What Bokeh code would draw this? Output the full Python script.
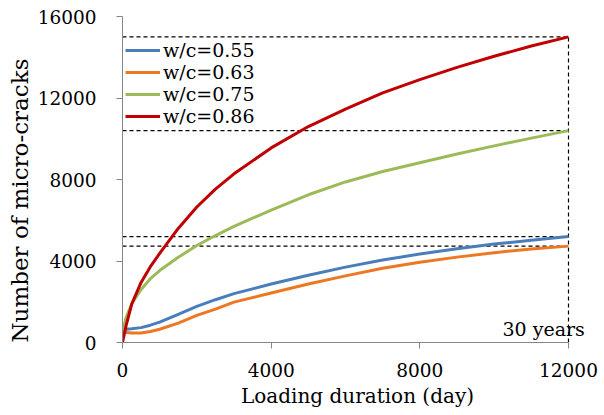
from bokeh.plotting import figure
from bokeh.models import Range1d, FixedTicker, Legend, LegendItem, Label, Title
from bokeh.embed import file_html
from bokeh.resources import INLINE

# ---- data ----
days  = [0, 100, 250, 500, 750, 1000, 1500, 2000, 2500, 3000, 4000, 5000, 6000, 7000, 8000, 9000, 10000, 11000, 12000]
wc055 = [650, 655, 670, 730, 850, 1000, 1380, 1770, 2100, 2400, 2870, 3300, 3700, 4050, 4340, 4600, 4830, 5020, 5200]
wc063 = [500, 490, 470, 470, 540, 650, 950, 1330, 1640, 1980, 2430, 2870, 3270, 3640, 3940, 4190, 4410, 4590, 4730]
wc075 = [550, 1250, 1900, 2600, 3130, 3530, 4180, 4760, 5250, 5700, 6500, 7250, 7880, 8390, 8820, 9250, 9650, 10030, 10400]
wc086 = [0, 850, 1900, 2950, 3720, 4370, 5600, 6650, 7530, 8280, 9550, 10600, 11450, 12250, 12900, 13500, 14050, 14550, 15000]
series_labels = ["w/c=0.55", "w/c=0.63", "w/c=0.75", "w/c=0.86"]
series_colors = ["#4A7EBB", "#EE7722", "#9BBB59", "#C00000"]
x_ticks = [0, 4000, 8000, 12000]
y_ticks = [0, 4000, 8000, 12000, 16000]
x_title = "Loading duration (day)"
y_title = "Number of micro-cracks"
note_text = "30 years"

FONT = "DejaVu Serif"

# frame spans 470 px, the 0..12000 axis uses the first 446 px of it
x_end = x_ticks[-1] * 470.0 / 446.0

p = figure(width=600, height=414, output_backend="svg", toolbar_location=None,
           x_range=Range1d(0, x_end), y_range=Range1d(0, y_ticks[-1]),
           min_border_left=122, min_border_right=8, min_border_top=16, min_border_bottom=72)
p.outline_line_color = None
p.xgrid.visible = False
p.ygrid.visible = False
p.background_fill_color = "white"

# reference dashed lines at the final values
all_series = [wc055, wc063, wc075, wc086]
for s in all_series:
    p.line([days[0], days[-1]], [s[-1], s[-1]], line_color="black", line_width=1.2, line_dash="4 3")
p.line([days[-1], days[-1]], [0, max(s[-1] for s in all_series)], line_color="black",
       line_width=1.2, line_dash="4 3")

items = []
for s, lab, col in zip(all_series, series_labels, series_colors):
    r = p.line(days, s, line_color=col, line_width=3, line_join="round")
    items.append(LegendItem(label=lab, renderers=[r]))

legend = Legend(items=items, location=(3, 215))
legend.background_fill_alpha = 0
legend.border_line_alpha = 0
legend.padding = 0
legend.margin = 0
legend.spacing = 0
legend.glyph_width = 35
legend.glyph_height = 22
legend.label_height = 22
legend.label_standoff = 3
legend.label_text_font = FONT
legend.label_text_font_size = "19px"
legend.label_text_color = "black"
p.add_layout(legend, "center")

for ax in (p.xaxis[0], p.yaxis[0]):
    ax.axis_line_color = "#868686"
    ax.major_tick_line_color = "#868686"
    ax.minor_tick_line_color = None
    ax.major_tick_out = 6
    ax.major_tick_in = 0
    ax.major_label_text_font = FONT
    ax.major_label_text_font_size = "18.5px"
    ax.major_label_text_color = "black"
    ax.axis_label_text_font = FONT
    ax.axis_label_text_font_style = "normal"
    ax.axis_label_text_color = "black"

p.xaxis.bounds = (x_ticks[0], x_ticks[-1])
p.xaxis.ticker = FixedTicker(ticks=x_ticks)
p.yaxis.ticker = FixedTicker(ticks=y_ticks)
p.xaxis.major_label_overrides = {t: str(t) for t in x_ticks}
p.yaxis.major_label_overrides = {t: str(t) for t in y_ticks}
p.xaxis.axis_label = x_title
p.xaxis.axis_label_text_font_size = "20px"
p.xaxis.major_label_standoff = 14
p.xaxis.axis_label_standoff = 4
p.yaxis.major_label_standoff = 20

ytitle = Title(text=y_title, align="left", offset=0, text_font=FONT,
               text_font_size="23px", text_font_style="normal", text_color="black",
               standoff=4)
p.add_layout(ytitle, "left")

note = Label(x=days[-1], y=0, x_offset=-66, y_offset=14, text=note_text,
             text_font=FONT, text_font_size="19px", text_color="black",
             text_align="left", text_baseline="alphabetic")
p.add_layout(note)

open("out.html", "w").write(file_html(p, INLINE))
